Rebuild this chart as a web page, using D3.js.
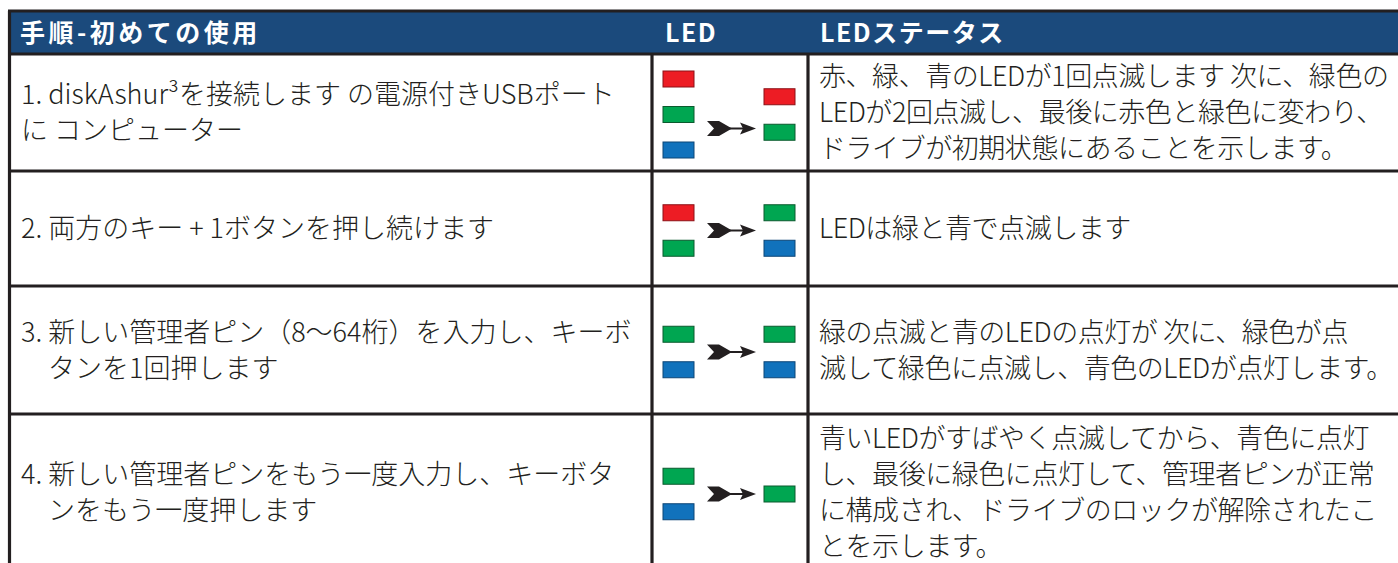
<!DOCTYPE html>
<html><head><meta charset="utf-8">
<script src="https://cdn.jsdelivr.net/npm/d3@7"></script>
<style>
html,body{margin:0;padding:0;background:#fff;}
svg{display:block;}
</style></head>
<body>
<svg id="chart" width="1398" height="563"></svg>
<script>
// ---- data ----
const headers = ["手順-初めての使用", "LED", "LEDステータス"];
const steps = [
  ["1. diskAshur³を接続します の電源付きUSBポート", "に コンピューター"],
  ["2. 両方のキー + 1ボタンを押し続けます"],
  ["3. 新しい管理者ピン（8〜64桁）を入力し、キーボ", "　タンを1回押します"],
  ["4. 新しい管理者ピンをもう一度入力し、キーボタ", "　ンをもう一度押します"]
];
const ledFrom = [["red","green","blue"],["red","green"],["green","blue"],["green","blue"]];
const ledTo   = [["red","green"],["green","blue"],["green","blue"],["green"]];
const status = [
  ["赤、緑、青のLEDが1回点滅します 次に、緑色の", "LEDが2回点滅し、最後に赤色と緑色に変わり、", "ドライブが初期状態にあることを示します。"],
  ["LEDは緑と青で点滅します"],
  ["緑の点滅と青のLEDの点灯が 次に、緑色が点", "滅して緑色に点滅し、青色のLEDが点灯します。"],
  ["青いLEDがすばやく点滅してから、青色に点灯", "し、最後に緑色に点灯して、管理者ピンが正常", "に構成され、ドライブのロックが解除されたこ", "とを示します。"]
];

// ---- layout ----
const W = 1398, H = 563;
const colEdges = [9.5, 652, 808, 1420];
const headTop = 11, headBottom = 54;
const rowHeights = [117, 115, 128, 156];
const lineH = 36;
const ink = "#231f20";
const ledColor = {red:"#ed1c24", green:"#00a651", blue:"#1172bc"};
const ledEdge = {red:"#8c1116", green:"#0b5a2e", blue:"#0c4677"};
const font = "'Noto Sans CJK JP','Noto Sans',sans-serif";

const svg = d3.select("#chart");

const rowEdges = [headBottom, ...Array.from(d3.cumsum(rowHeights), v => v + headBottom)];
const rowIdx = d3.range(steps.length);
const rowCenter = i => (rowEdges[i] + rowEdges[i+1]) / 2;

// header
svg.append("rect").attr("x", colEdges[0]).attr("y", headTop)
  .attr("width", W - colEdges[0] + 5).attr("height", headBottom - headTop)
  .attr("fill", "#1b4a7c");
const headX = [20, 665, 820];
svg.selectAll("text.head").data(headers).join("text")
  .attr("class","head")
  .attr("x", (d,i) => headX[i]).attr("y", 42)
  .attr("fill","#fff").attr("font-family", font).attr("font-weight", 700)
  .attr("font-size", 25).attr("letter-spacing", (d,i) => i === 0 ? 3.5 : 1.5)
  .text(d => d);

// row text
function cellText(cls, data, x, spacing) {
  const g = svg.selectAll("g."+cls).data(data).join("g").attr("class", cls);
  g.selectAll("text").data((lines, i) => lines.map((t, j) => ({t, j, n: lines.length, i})))
    .join("text")
    .attr("x", x)
    .attr("y", d => rowCenter(d.i) + (d.j - (d.n - 1) / 2) * lineH)
    .attr("dy", "0.36em")
    .attr("fill", ink).attr("font-family", font).attr("font-weight", 300)
    .attr("font-size", 27).attr("letter-spacing", spacing)
    .text(d => d.t);
}
cellText("step", steps, 21, 0);
cellText("status", status, 819, -0.45);

// LEDs
const ledW = 31, ledH = 16, ledGap = 35.5;
const fromX = 663, toX = 764;
function ledStack(cls, data, x) {
  const g = svg.selectAll("g."+cls).data(data).join("g").attr("class", cls);
  g.selectAll("rect").data((leds, i) => {
    const n = leds.length;
    const c = rowCenter(i) + 2;
    const y = d3.scalePoint().domain(d3.range(n)).range([c - (n-1)*ledGap/2, c + (n-1)*ledGap/2]);
    return leds.map((col, k) => ({col, cy: n === 1 ? c : y(k)}));
  }).join("rect")
    .attr("x", x).attr("y", d => d.cy - ledH/2)
    .attr("width", ledW).attr("height", ledH)
    .attr("fill", d => ledColor[d.col])
    .attr("stroke", d => ledEdge[d.col]).attr("stroke-width", 1);
}
ledStack("from", ledFrom, fromX);
ledStack("to", ledTo, toX);

// arrows
const arrowG = svg.selectAll("g.arrow").data(rowIdx).join("g").attr("class","arrow")
  .attr("transform", i => {
    const cy = rowCenter(i) + 2 + (ledFrom[i].length === 3 ? 14 : 0);
    return `translate(707,${cy})`;
  });
arrowG.append("path").attr("d","M0,-7.5 L12,-7.5 L25,0 L12,7.5 L0,7.5 L7,0 Z").attr("fill", ink);
arrowG.append("line").attr("x1",22).attr("x2",40).attr("y1",0).attr("y2",0).attr("stroke",ink).attr("stroke-width",2);
arrowG.append("path").attr("d","M33,-6 L49,0 L33,6 L36,0 Z").attr("fill", ink);

// grid lines
const lw = 3.2;
svg.append("line").attr("x1", colEdges[0]-1.5).attr("x2", W+5).attr("y1", headTop).attr("y2", headTop)
  .attr("stroke", ink).attr("stroke-width", lw);
svg.selectAll("line.hrow").data(rowEdges).join("line").attr("class","hrow")
  .attr("x1", colEdges[0]-1.5).attr("x2", W+5).attr("y1", d => d).attr("y2", d => d)
  .attr("stroke", ink).attr("stroke-width", lw);
svg.append("line").attr("x1", colEdges[0]).attr("x2", colEdges[0]).attr("y1", headTop).attr("y2", H+5)
  .attr("stroke", ink).attr("stroke-width", lw);
svg.selectAll("line.vcol").data(colEdges.slice(1,3)).join("line").attr("class","vcol")
  .attr("x1", d => d).attr("x2", d => d).attr("y1", headBottom).attr("y2", H+5)
  .attr("stroke", ink).attr("stroke-width", lw);
</script>
</body></html>
